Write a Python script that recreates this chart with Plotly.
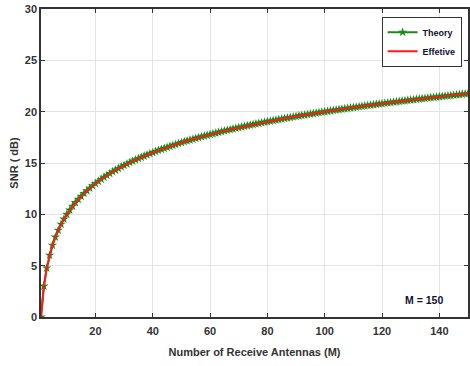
import plotly.graph_objects as go

M = list(range(1, 151))
theory_db = [
    0.00, 3.01, 4.77, 6.02, 6.99, 7.78, 8.45, 9.03, 9.54, 10.00,
    10.41, 10.79, 11.14, 11.46, 11.76, 12.04, 12.30, 12.55, 12.79, 13.01,
    13.22, 13.42, 13.62, 13.80, 13.98, 14.15, 14.31, 14.47, 14.62, 14.77,
    14.91, 15.05, 15.19, 15.31, 15.44, 15.56, 15.68, 15.80, 15.91, 16.02,
    16.13, 16.23, 16.33, 16.43, 16.53, 16.63, 16.72, 16.81, 16.90, 16.99,
    17.08, 17.16, 17.24, 17.32, 17.40, 17.48, 17.56, 17.63, 17.71, 17.78,
    17.85, 17.92, 17.99, 18.06, 18.13, 18.20, 18.26, 18.33, 18.39, 18.45,
    18.51, 18.57, 18.63, 18.69, 18.75, 18.81, 18.86, 18.92, 18.98, 19.03,
    19.08, 19.14, 19.19, 19.24, 19.29, 19.34, 19.40, 19.44, 19.49, 19.54,
    19.59, 19.64, 19.68, 19.73, 19.78, 19.82, 19.87, 19.91, 19.96, 20.00,
    20.04, 20.09, 20.13, 20.17, 20.21, 20.25, 20.29, 20.33, 20.37, 20.41,
    20.45, 20.49, 20.53, 20.57, 20.61, 20.64, 20.68, 20.72, 20.76, 20.79,
    20.83, 20.86, 20.90, 20.93, 20.97, 21.00, 21.04, 21.07, 21.11, 21.14,
    21.17, 21.21, 21.24, 21.27, 21.30, 21.34, 21.37, 21.40, 21.43, 21.46,
    21.49, 21.52, 21.55, 21.58, 21.61, 21.64, 21.67, 21.70, 21.73, 21.76,
]
effective_db = list(theory_db)

x_ticks = [20, 40, 60, 80, 100, 120, 140]
y_ticks = [0, 5, 10, 15, 20, 25, 30]

FONT = "Liberation Sans, Arial, sans-serif"

fig = go.Figure()
fig.add_trace(go.Scatter(
    x=M, y=theory_db, mode="lines+markers", name="Theory",
    line=dict(color="#1a8a1a", width=2),
    marker=dict(symbol="star", size=7, color="#1a8a1a"),
))
fig.add_trace(go.Scatter(
    x=M, y=effective_db, mode="lines", name="Effetive",
    line=dict(color="#ff1a1a", width=2),
))

fig.add_annotation(
    x=142, y=1.65, xref="x", yref="y", text="M = 150", showarrow=False,
    xanchor="right", yanchor="middle",
    font=dict(family=FONT, size=10.5, color="#111133", weight="bold"),
)

axis_common = dict(
    showgrid=True, gridcolor="#e3e3e3", gridwidth=1,
    showline=True, linecolor="#333333", linewidth=1.5, mirror="ticks",
    ticks="inside", ticklen=4, tickcolor="#333333",
    tickfont=dict(family=FONT, size=11, color="#333333", weight="bold"),
    zeroline=False, automargin=False,
)

fig.update_layout(
    width=470, height=366,
    margin=dict(l=41, r=2, t=9, b=49),
    paper_bgcolor="white", plot_bgcolor="white",
    showlegend=True,
    legend=dict(
        x=0.985, y=0.975, xanchor="right", yanchor="top",
        bgcolor="white", bordercolor="#333333", borderwidth=1,
        font=dict(family=FONT, size=9, color="#111133", weight="bold"),
        itemwidth=30, tracegroupgap=0,
    ),
    xaxis=dict(
        range=[1, 150], tickvals=x_ticks, ticklabelstandoff=3,
        title=dict(text="Number of Receive Antennas (M)",
                   font=dict(family=FONT, size=11, color="#333333", weight="bold"),
                   standoff=12),
        **axis_common,
    ),
    yaxis=dict(
        range=[0, 30], tickvals=y_ticks,
        title=dict(text="SNR ( dB)",
                   font=dict(family=FONT, size=11, color="#333333", weight="bold"),
                   standoff=4),
        **axis_common,
    ),
)

fig.write_html("out.html", post_script="document.body.style.margin='0';",
               config={"displayModeBar": False})
